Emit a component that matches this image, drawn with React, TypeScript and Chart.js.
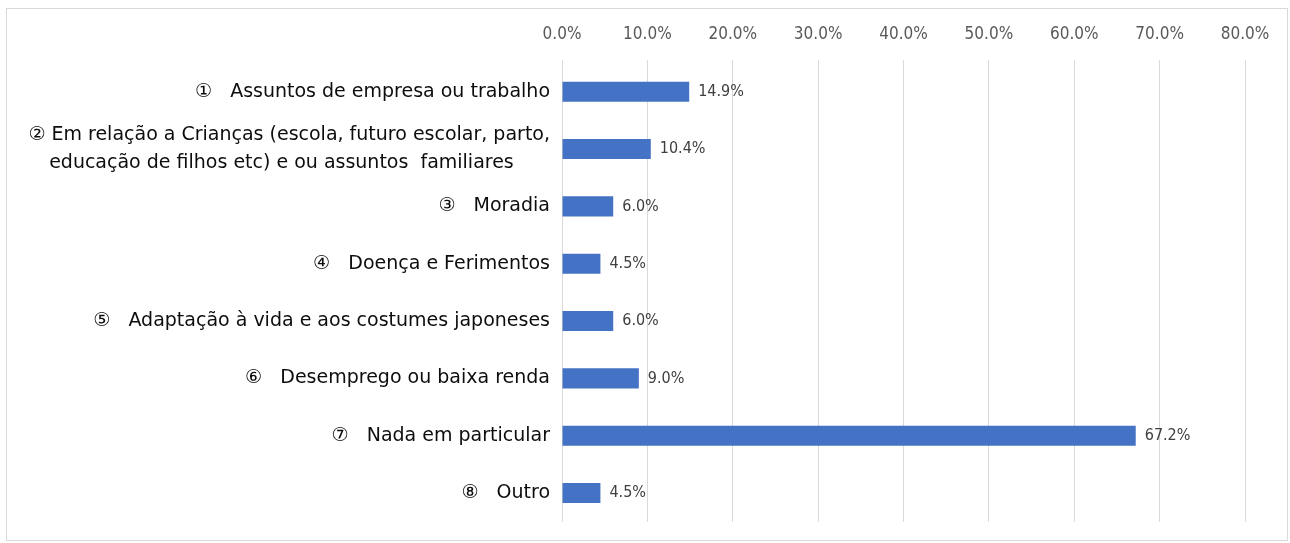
import React, { useEffect, useRef } from "react";
import { Chart, registerables } from "chart.js";

Chart.register(...registerables);

const categories: (string | string[])[] = [
  "①   Assuntos de empresa ou trabalho",
  [
    "② Em relação a Crianças (escola, futuro escolar, parto,",
    "educação de filhos etc) e ou assuntos  familiares" + "\u00a0".repeat(6),
  ],
  "③   Moradia",
  "④   Doença e Ferimentos",
  "⑤   Adaptação à vida e aos costumes japoneses",
  "⑥   Desemprego ou baixa renda",
  "⑦   Nada em particular",
  "⑧   Outro",
];
const values: number[] = [14.9, 10.4, 6.0, 4.5, 6.0, 9.0, 67.2, 4.5];
const axisMax = 80;
const axisStep = 10;

const barColor = "#4472C4";
const gridColor = "#d9d9d9";
const narrowFont = '"Liberation Sans Narrow", "DejaVu Sans Condensed", sans-serif';

const valueLabels = {
  id: "valueLabels",
  afterDatasetsDraw(chart: any) {
    const ctx = chart.ctx;
    const meta = chart.getDatasetMeta(0);
    ctx.save();
    ctx.font = "16px " + narrowFont;
    ctx.fillStyle = "#404040";
    ctx.textAlign = "left";
    ctx.textBaseline = "middle";
    meta.data.forEach((el: any, i: number) => {
      ctx.fillText(values[i].toFixed(1) + "%", el.x + 9, el.y);
    });
    ctx.restore();
  },
};

export default function App() {
  const ref = useRef<HTMLCanvasElement | null>(null);
  useEffect(() => {
    if (!ref.current) return;
    const chart = new Chart(ref.current, {
      type: "bar",
      data: {
        labels: categories,
        datasets: [
          {
            data: values,
            backgroundColor: barColor,
            borderWidth: 0,
            barPercentage: 0.35,
            categoryPercentage: 1,
          },
        ],
      },
      plugins: [valueLabels],
      options: {
        indexAxis: "y",
        animation: false,
        responsive: false,
        maintainAspectRatio: false,
        layout: { padding: { left: 0, right: 42, top: 0, bottom: 17 } },
        plugins: { legend: { display: false }, tooltip: { enabled: false } },
        scales: {
          x: {
            position: "top",
            min: 0,
            max: axisMax,
            afterFit: (s: any) => {
              s.height = 54;
            },
            ticks: {
              stepSize: axisStep,
              padding: 15,
              color: "#595959",
              font: { family: narrowFont, size: 17 },
              callback: (v: any) => Number(v).toFixed(1) + "%",
            },
            grid: { color: gridColor, tickLength: 3, tickColor: gridColor },
            border: { display: false },
          },
          y: {
            afterFit: (s: any) => {
              s.width = 555;
            },
            ticks: {
              autoSkip: false,
              padding: 4,
              color: "#0d0d0d",
              font: { family: '"DejaVu Sans", sans-serif', size: 19, lineHeight: 1.5 },
            },
            grid: { display: false },
            border: { display: false },
          },
        },
      },
    });
    return () => chart.destroy();
  }, []);
  return (
    <div
      style={{
        position: "fixed",
        left: 6,
        top: 8,
        width: 1280,
        height: 531,
        border: "1px solid #d9d9d9",
        background: "#fff",
      }}
    >
      <canvas ref={ref} width={1280} height={531} style={{ display: "block" }} />
    </div>
  );
}
